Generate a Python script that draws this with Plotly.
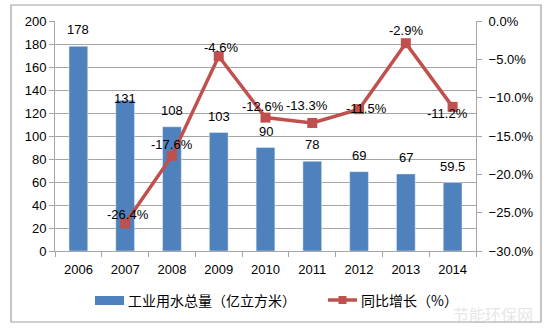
import plotly.graph_objects as go

# Industrial water use and year-on-year growth, 2006-2014
years = ["2006", "2007", "2008", "2009", "2010", "2011", "2012", "2013", "2014"]
water_total = [178, 131, 108, 103, 90, 78, 69, 67, 59.5]
water_labels = ["178", "131", "108", "103", "90", "78", "69", "67", "59.5"]
growth_years = ["2007", "2008", "2009", "2010", "2011", "2012", "2013", "2014"]
growth_pct = [-26.4, -17.6, -4.6, -12.6, -13.3, -11.5, -2.9, -11.2]

bar_name = "工业用水总量（亿立方米）"
line_name = "同比增长（%）"

BLUE = "#4F81BD"
RED = "#C0504D"
GRID = "#A6A6A6"
FONT = "Liberation Sans, Arial, sans-serif"
CJK = "Noto Sans CJK SC, sans-serif"

# label offsets in pixels (style only)
bar_label_shift = [7, -8, 7, 7, 7, 7, 7, 7, 7]
line_label_dx = [3, 0, 2, -3, -5, 7, 0, -5]
line_label_dy = [9, 11, 9, 11, 17, 1, 13, -7]

fig = go.Figure()
fig.add_trace(go.Bar(
    x=years, y=water_total, name=bar_name, marker_color=BLUE,
    width=0.4, showlegend=False, yaxis="y",
))
fig.add_trace(go.Scatter(
    x=growth_years, y=growth_pct, name=line_name, mode="lines+markers",
    line=dict(color=RED, width=3.5),
    marker=dict(symbol="square", size=10, color=RED),
    showlegend=False, yaxis="y2",
))

# annotations on a category axis are placed by category index
annotations = []
for yr, v, t, s in zip(years, water_total, water_labels, bar_label_shift):
    annotations.append(dict(x=years.index(yr), y=v, xref="x", yref="y", text=t,
                            showarrow=False, yanchor="bottom", yshift=s,
                            font=dict(family=FONT, size=13, color="#000")))
for yr, v, dx, dy in zip(growth_years, growth_pct, line_label_dx, line_label_dy):
    annotations.append(dict(x=years.index(yr), y=v, xref="x", yref="y2",
                            text=f"{v:.1f}%", showarrow=False, yanchor="middle",
                            xshift=dx, yshift=dy,
                            font=dict(family=FONT, size=13, color="#000")))

# plot area spans 421 x 230 px; helpers to place items in paper units
def px_x(p):
    return (p - 55) / 421

def px_y(p):
    return (251 - p) / 230

# legend drawn by hand: wide swatch for the bars, line with square for the growth
shapes = [
    dict(type="rect", xref="paper", yref="paper", x0=px_x(11), x1=px_x(541),
         y0=px_y(322), y1=px_y(5), line=dict(color="#A0A0A0", width=1.2),
         fillcolor="rgba(0,0,0,0)", layer="below"),
    dict(type="rect", xref="paper", yref="paper", x0=px_x(95), x1=px_x(124),
         y0=px_y(305), y1=px_y(296), fillcolor=BLUE, line=dict(width=0)),
    dict(type="line", xref="paper", yref="paper", x0=px_x(328), x1=px_x(357),
         y0=px_y(300), y1=px_y(300), line=dict(color=RED, width=3.5)),
    dict(type="rect", xref="paper", yref="paper", x0=px_x(338.5), x1=px_x(346.5),
         y0=px_y(304), y1=px_y(296), fillcolor=RED, line=dict(width=0)),
]
annotations += [
    dict(x=px_x(126), y=px_y(300), xref="paper", yref="paper", text=bar_name,
         showarrow=False, xanchor="left", yanchor="middle",
         font=dict(family=CJK, size=14, color="#000")),
    dict(x=px_x(359), y=px_y(300), xref="paper", yref="paper", text=line_name,
         showarrow=False, xanchor="left", yanchor="middle",
         font=dict(family=CJK, size=14, color="#000")),
    dict(x=px_x(493), y=px_y(314), xref="paper", yref="paper", text="节能环保网",
         showarrow=False, xanchor="center", yanchor="middle",
         font=dict(family=CJK, size=16, color="rgba(190,190,190,0.4)")),
]

fig.update_layout(
    width=552, height=330,
    margin=dict(l=55, r=76, t=21, b=79),
    paper_bgcolor="white", plot_bgcolor="white",
    font=dict(family=FONT, size=13, color="#000"),
    bargap=0.6,
    xaxis=dict(type="category", categoryorder="array", categoryarray=years,
               range=[-0.5, len(years) - 0.5],
               showline=True, linecolor=GRID, linewidth=1,
               ticks="outside", tickson="boundaries", ticklen=5, tickcolor=GRID,
               ticklabelstandoff=6,
               showgrid=False, tickfont=dict(size=13)),
    yaxis=dict(range=[0, 200], dtick=20, showgrid=True, gridcolor=GRID, gridwidth=1,
               showline=True, linecolor=GRID, ticks="outside", ticklen=5, tickcolor=GRID,
               zeroline=False, tickfont=dict(size=13)),
    yaxis2=dict(range=[-30, 0], dtick=5, overlaying="y", side="right",
                showgrid=False, showline=True, linecolor=GRID, ticks="outside",
                ticklen=5, tickcolor=GRID, zeroline=False, ticklabelstandoff=4,
                tickformat=".1f", ticksuffix="%", tickfont=dict(size=13)),
    shapes=shapes,
    annotations=annotations,
)

fig.write_html("out.html")
